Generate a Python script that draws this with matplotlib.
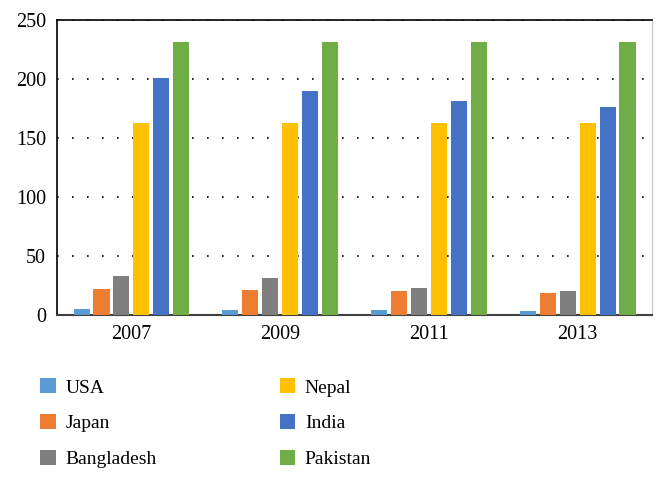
import numpy as np
import matplotlib
matplotlib.use("Agg")
import matplotlib.pyplot as plt

# Data
# ===================================================================
years = ["2007", "2009", "2011", "2013"]
countries = ["USA", "Japan", "Bangladesh", "Nepal", "India", "Pakistan"]

usa = [5, 4.5, 4, 3.5]
japan = [22, 21, 20, 19]
bangladesh = [33, 31, 23, 20]
nepal = [163, 163, 163, 163]
india = [201, 190, 181, 176]
pakistan = [231, 231, 231, 231]

series = [usa, japan, bangladesh, nepal, india, pakistan]
colors = ["#5B9BD5", "#ED7D31", "#7F7F7F", "#FFC000", "#4472C4", "#70AD47"]

# Plot
# ===================================================================
plt.rcParams["font.family"] = ["Liberation Serif", "DejaVu Serif"]

fig = plt.figure(figsize=(6.66, 4.84), dpi=100)
ax = fig.add_axes([0.0856, 0.349, 0.8934, 0.6097])

x = np.arange(len(years))
pitch = 0.134
width = 0.108
handles = []
for i, (vals, col) in enumerate(zip(series, colors)):
    b = ax.bar(x + (i - 2.5) * pitch, vals, width, color=col, zorder=3,
               label=countries[i])
    handles.append(b)

ax.set_xlim(-0.5, 3.5)
ax.set_ylim(0, 250)
ax.set_yticks([0, 50, 100, 150, 200, 250])
ax.set_xticks(x)
ax.set_xticklabels(years)
ax.tick_params(axis="both", length=0, labelsize=14.5)
ax.tick_params(axis="y", pad=8)
ax.tick_params(axis="x", pad=7)

ax.yaxis.grid(True, color="black", linestyle=(0, (1, 8)), linewidth=1.2, zorder=0)
ax.set_axisbelow(True)

ax.spines["top"].set_color("black")
ax.spines["top"].set_linewidth(1.2)
ax.spines["left"].set_color("black")
ax.spines["left"].set_linewidth(1.2)
ax.spines["bottom"].set_color("#404040")
ax.spines["bottom"].set_linewidth(1.5)
ax.spines["right"].set_color("#d0d0d0")
ax.spines["right"].set_linewidth(1.0)

fig.legend(handles=handles, labels=countries, ncol=2, loc="upper left",
           bbox_to_anchor=(0.0345, 0.2545), frameon=False, fontsize=14,
           handlelength=0.8, handleheight=0.8, handletextpad=0.5,
           columnspacing=6.3, labelspacing=0.9)

fig.savefig("out.png", dpi=100)
